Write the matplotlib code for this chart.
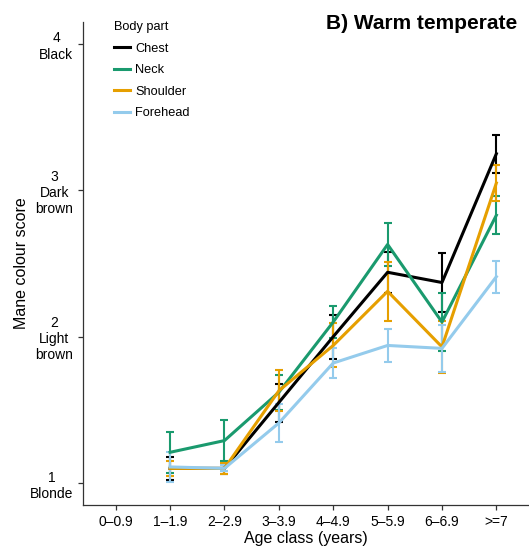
import matplotlib
matplotlib.use('Agg')
import matplotlib.pyplot as plt
import numpy as np

plt.rcParams['font.family'] = ['Liberation Sans', 'DejaVu Sans']

age_classes = ['0\u20130.9', '1\u20131.9', '2\u20132.9', '3\u20133.9',
               '4\u20134.9', '5\u20135.9', '6\u20136.9', '>=7']
score_ticks = [1, 2, 3, 4]
score_labels = ['1\nBlonde', '2\nLight\nbrown', '3\nDark\nbrown', '4\nBlack']

# values for age classes 1-1.9 ... >=7 (no data for 0-0.9)
chest = [1.10, 1.10, 1.55, 2.00, 2.44, 2.37, 3.25]
chest_err = [0.08, 0.04, 0.13, 0.15, 0.14, 0.20, 0.13]
neck = [1.21, 1.29, 1.62, 2.10, 2.63, 2.10, 2.83]
neck_err = [0.14, 0.14, 0.12, 0.11, 0.15, 0.20, 0.13]
shoulder = [1.10, 1.10, 1.63, 1.94, 2.31, 1.93, 3.05]
shoulder_err = [0.05, 0.04, 0.14, 0.15, 0.20, 0.18, 0.12]
forehead = [1.11, 1.10, 1.41, 1.82, 1.94, 1.92, 2.41]
forehead_err = [0.10, 0.02, 0.13, 0.10, 0.11, 0.16, 0.11]

series = [('Chest', chest, chest_err, '#000000'),
          ('Neck', neck, neck_err, '#1A9A6E'),
          ('Shoulder', shoulder, shoulder_err, '#E69F00'),
          ('Forehead', forehead, forehead_err, '#94CBEC')]

fig = plt.figure(figsize=(5.29, 5.51), dpi=100)
ax = fig.add_axes([0.157, 0.0835, 0.843, 0.8766])

x = np.arange(2, 9)
for name, vals, err, col in series:
    ax.errorbar(x, vals, yerr=err, color=col, lw=2.2, elinewidth=1.5,
                capsize=3, capthick=1.5, label=name)

ax.set_xlim(0.4, 8.6)
ax.set_ylim(0.85, 4.15)
ax.set_xticks(np.arange(1, 9))
ax.set_xticklabels(age_classes, fontsize=10)
ax.set_yticks(score_ticks)
ax.set_yticklabels(score_labels, fontsize=10, multialignment='center')

for s in ['top', 'right']:
    ax.spines[s].set_visible(False)
for s in ['left', 'bottom']:
    ax.spines[s].set_color('#333333')
    ax.spines[s].set_linewidth(0.9)
ax.tick_params(colors='#333333', length=3.5, width=0.9, labelcolor='black')

ax.set_xlabel('Age class (years)', fontsize=11.5, labelpad=2)
ax.set_ylabel('Mane colour score', fontsize=11.5, labelpad=1)

fig.text(0.977, 0.958, 'B) Warm temperate', fontsize=15, fontweight='bold',
         ha='right', va='center')

# legend handles without the errorbar caps
handles = [plt.Line2D([], [], color=c, lw=2.2) for _, _, _, c in series]
leg = ax.legend(handles, [s[0] for s in series], title='Body part',
                loc='upper left', bbox_to_anchor=(0.205, 0.971),
                bbox_transform=fig.transFigure, frameon=False,
                fontsize=9.2, title_fontsize=9.2, handlelength=1.3,
                handletextpad=0.4, labelspacing=0.75, borderaxespad=0)
leg._legend_box.align = 'left'

fig.savefig('out.png', dpi=100)
